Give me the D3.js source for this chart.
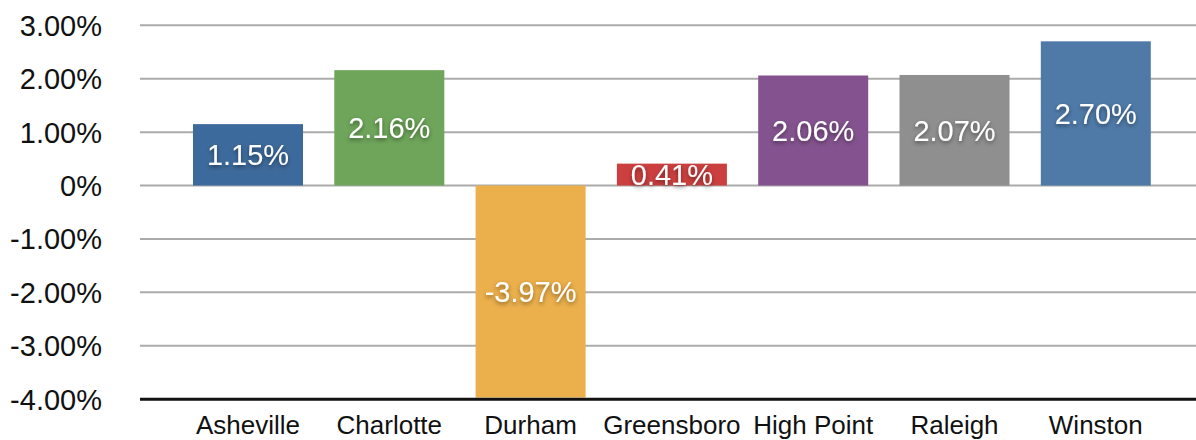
<!DOCTYPE html>
<html>
<head>
<meta charset="utf-8">
<script src="https://cdn.jsdelivr.net/npm/d3@7"></script>
<style>
  html, body { margin: 0; padding: 0; background: #fff; }
  svg { display: block; }
  text { font-family: "Liberation Sans", Arial, Helvetica, sans-serif; }
</style>
</head>
<body>
<svg id="chart" width="1196" height="440"></svg>
<script>
const categories = ["Asheville", "Charlotte", "Durham", "Greensboro", "High Point", "Raleigh", "Winston"];
const values = [1.15, 2.16, -3.97, 0.41, 2.06, 2.07, 2.70];
const colors = ["#3d6a9c", "#6ea55a", "#ebaf4b", "#cc3f3f", "#84538f", "#8e8f8e", "#4f7aa8"];
const yTicks = [-4, -3, -2, -1, 0, 1, 2, 3];
const yTickLabels = ["-4.00%", "-3.00%", "-2.00%", "-1.00%", "0%", "1.00%", "2.00%", "3.00%"];

const svg = d3.select("#chart");
const W = 1196;

const defs = svg.append("defs");
const f = defs.append("filter").attr("id", "shadow").attr("x", "-20%").attr("y", "-40%").attr("width", "140%").attr("height", "180%");
f.append("feDropShadow").attr("dx", 0).attr("dy", 2).attr("stdDeviation", 2.2)
  .attr("flood-color", "#000").attr("flood-opacity", 0.45);

const y = d3.scaleLinear().domain([-4, 3]).range([399.2, 25.3]);
const step = 141.3;
const x0 = 193 - step * 0.2215 / 2;
const x = d3.scaleBand().domain(categories)
  .range([x0, x0 + step * categories.length])
  .paddingInner(0.2215).paddingOuter(0.2215 / 2);

const plotLeft = 140;

// gridlines
svg.append("g").selectAll("line")
  .data(yTicks.filter(d => d !== -4))
  .join("line")
  .attr("x1", plotLeft).attr("x2", W)
  .attr("y1", d => y(d)).attr("y2", d => y(d))
  .attr("stroke", "#ababab").attr("stroke-width", 2);

// y tick labels
svg.append("g").selectAll("text")
  .data(yTicks)
  .join("text")
  .attr("x", 102)
  .attr("y", d => y(d) + 10.4)
  .attr("text-anchor", "end")
  .attr("font-size", 29)
  .attr("fill", "#111")
  .text((d, i) => yTickLabels[i]);

// bars
svg.append("g").selectAll("rect")
  .data(values)
  .join("rect")
  .attr("x", (d, i) => x(categories[i]))
  .attr("width", x.bandwidth())
  .attr("y", d => y(Math.max(0, d)))
  .attr("height", d => Math.abs(y(d) - y(0)))
  .attr("fill", (d, i) => colors[i]);

// bottom axis line
svg.append("line")
  .attr("x1", plotLeft).attr("x2", W)
  .attr("y1", y(-4)).attr("y2", y(-4))
  .attr("stroke", "#111").attr("stroke-width", 3);

// value labels
svg.append("g").selectAll("text")
  .data(values)
  .join("text")
  .attr("x", (d, i) => x(categories[i]) + x.bandwidth() / 2)
  .attr("y", d => (y(d) + y(0)) / 2 + 10.4)
  .attr("text-anchor", "middle")
  .attr("font-size", 29)
  .attr("fill", "#fff")
  .attr("filter", "url(#shadow)")
  .text(d => d.toFixed(2) + "%");

// category labels
svg.append("g").selectAll("text")
  .data(categories)
  .join("text")
  .attr("x", d => x(d) + x.bandwidth() / 2)
  .attr("y", 434)
  .attr("text-anchor", "middle")
  .attr("font-size", 26)
  .attr("fill", "#111")
  .text(d => d);
</script>
</body>
</html>
